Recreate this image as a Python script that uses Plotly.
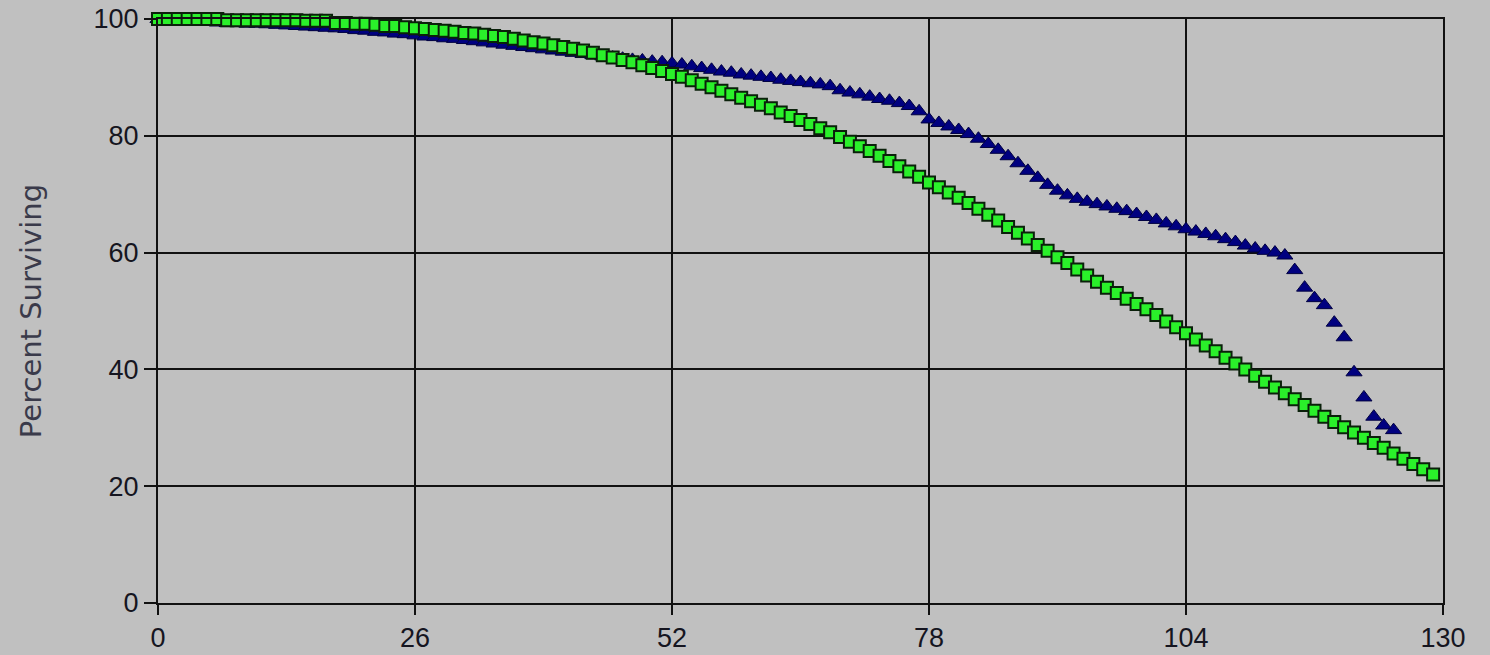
import plotly.graph_objects as go

# Weeks (x) and percent surviving for the two series
green_x = list(range(0, 130))
green_y = [
    100, 100, 100, 100, 100, 100, 100, 99.8, 99.8, 99.8,
    99.8, 99.8, 99.8, 99.8, 99.8, 99.7, 99.7, 99.7, 99.3, 99.3,
    99.2, 99.2, 99.0, 98.8, 98.8, 98.6, 98.4, 98.3, 98.1, 98.0,
    97.8, 97.6, 97.5, 97.3, 97.1, 96.9, 96.6, 96.3, 96.0, 95.8,
    95.5, 95.2, 94.9, 94.6, 94.2, 93.8, 93.4, 93.0, 92.6, 92.1,
    91.6, 91.1, 90.6, 90.1, 89.5, 88.9, 88.3, 87.7, 87.1, 86.5,
    85.9, 85.3, 84.7, 84.0, 83.4, 82.7, 82.0, 81.3, 80.6, 79.8,
    79.0, 78.2, 77.4, 76.6, 75.7, 74.8, 73.9, 73.0, 72.0, 71.2,
    70.3, 69.4, 68.5, 67.5, 66.5, 65.5, 64.4, 63.4, 62.4, 61.3,
    60.3, 59.2, 58.2, 57.1, 56.1, 55.0, 54.0, 53.1, 52.1, 51.2,
    50.3, 49.3, 48.2, 47.2, 46.2, 45.1, 44.1, 43.1, 42.0, 41.0,
    40.0, 38.9, 37.9, 36.9, 35.9, 34.9, 33.9, 32.9, 31.9, 31.0,
    30.1, 29.2, 28.3, 27.4, 26.6, 25.6, 24.7, 23.8, 22.9, 22.0,
]

blue_x = list(range(0, 126))
blue_y = [
    100, 99.7, 99.7, 99.6, 99.6, 99.5, 99.4, 99.3, 99.3, 99.2,
    99.2, 99.1, 99.0, 98.9, 98.8, 98.7, 98.6, 98.5, 98.4, 98.3,
    98.1, 98.0, 97.8, 97.7, 97.5, 97.4, 97.2, 97.0, 96.9, 96.7,
    96.6, 96.4, 96.2, 96.0, 95.8, 95.6, 95.4, 95.2, 95.0, 94.8,
    94.6, 94.4, 94.2, 94.0, 93.8, 93.6, 93.4, 93.2, 93.0, 92.9,
    92.7, 92.6, 92.4, 92.2, 91.9, 91.6, 91.3, 91.0, 90.8, 90.5,
    90.3, 90.1, 89.9, 89.6, 89.4, 89.2, 89.0, 88.8, 88.5, 87.8,
    87.4, 87.1, 86.7, 86.3, 86.0, 85.6, 85.1, 84.2, 82.8, 82.2,
    81.6, 81.0, 80.3, 79.5, 78.6, 77.6, 76.5, 75.3, 74.0, 72.8,
    71.6, 70.6, 69.8, 69.2, 68.7, 68.3, 67.9, 67.5, 67.1, 66.6,
    66.1, 65.6, 65.0, 64.5, 64.0, 63.6, 63.2, 62.8, 62.3, 61.8,
    61.2, 60.7, 60.3, 60.0, 59.5, 57.0, 54.0, 52.2, 51.0, 48.0,
    45.5, 39.5, 35.2, 31.9, 30.4, 29.6,
]

x_ticks = [0, 26, 52, 78, 104, 130]
y_ticks = [0, 20, 40, 60, 80, 100]
y_title = "Percent Surviving"

fig = go.Figure()
fig.add_trace(go.Scatter(
    x=blue_x, y=blue_y, mode="markers", cliponaxis=False,
    marker=dict(symbol="triangle-up", size=14, color="#000080",
                line=dict(color="#000040", width=1)),
    showlegend=False, hoverinfo="skip",
))
fig.add_trace(go.Scatter(
    x=green_x, y=green_y, mode="markers", cliponaxis=False,
    marker=dict(symbol="square", size=12, color="#2AF02A",
                line=dict(color="#0a200a", width=2)),
    showlegend=False, hoverinfo="skip",
))

fig.update_layout(
    width=1490, height=655,
    margin=dict(l=158, r=47, t=19, b=52),
    paper_bgcolor="#C0C0C0", plot_bgcolor="#C0C0C0",
    font=dict(family="Liberation Sans, Arial, sans-serif", size=27, color="#151520"),
)
fig.update_xaxes(
    range=[0, 130], tickvals=x_ticks, showgrid=True, gridcolor="#111111", gridwidth=2,
    zeroline=False, showline=True, linecolor="#111111", linewidth=2, mirror=True,
    ticks="outside", ticklen=10, tickwidth=2, tickcolor="#111111", automargin=False,
)
fig.update_yaxes(
    range=[0, 100], tickvals=y_ticks, showgrid=True, gridcolor="#111111", gridwidth=2,
    zeroline=False, showline=True, linecolor="#111111", linewidth=2, mirror=True,
    ticks="outside", ticklen=12, tickwidth=2, tickcolor="#111111", automargin=False,
    title=dict(text=y_title, font=dict(family="DejaVu Sans, sans-serif", size=29, color="#3a3a4a"),
               standoff=43),
)

fig.write_html("out.html", config={"displayModeBar": False},
               post_script="document.body.style.margin='0px';")
